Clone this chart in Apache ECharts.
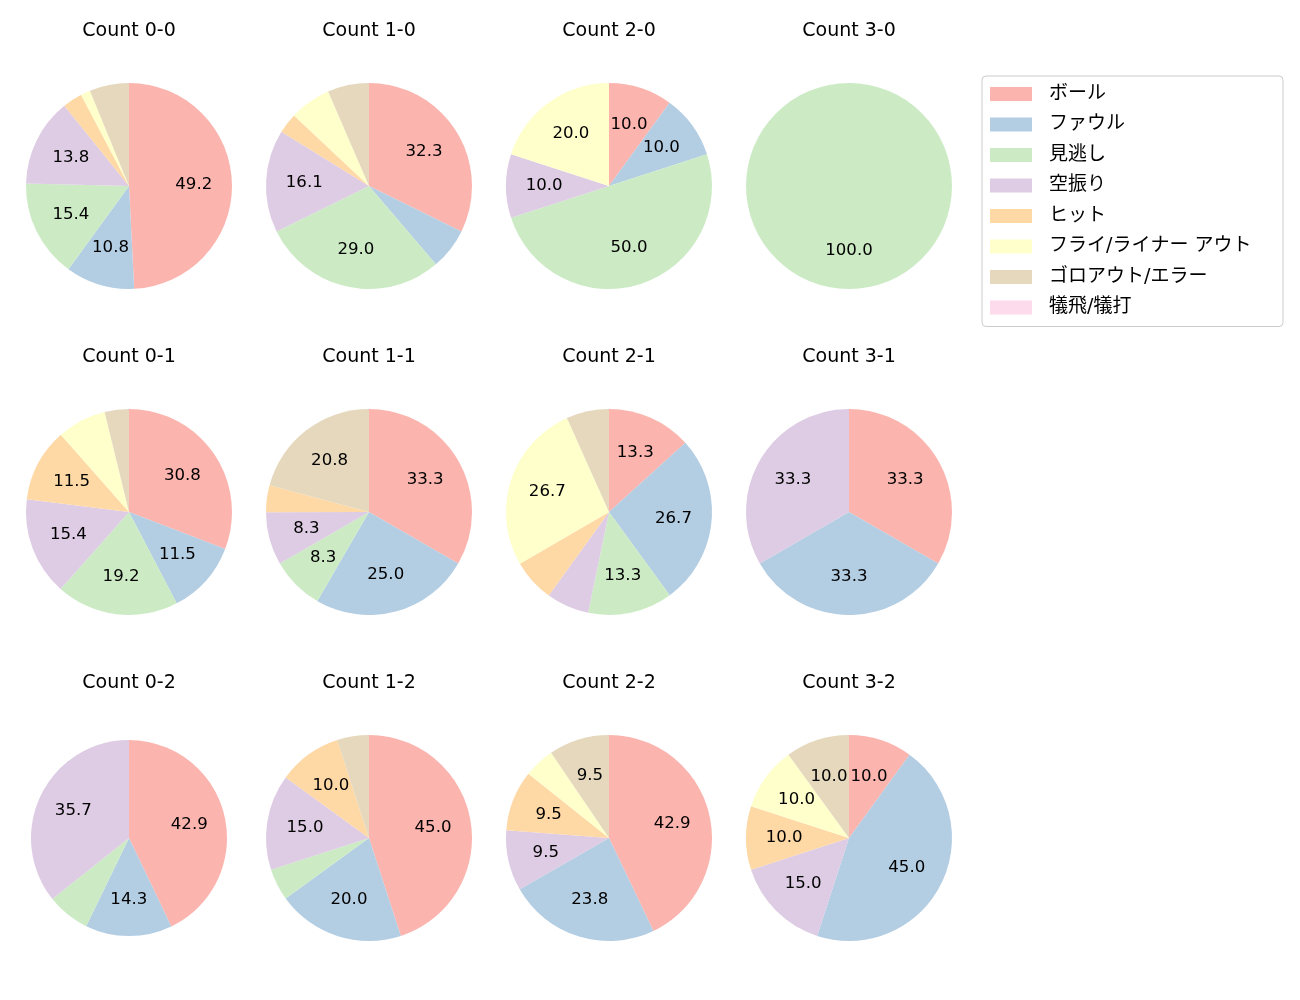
<!DOCTYPE html>
<html>
<head>
<meta charset="utf-8">
<script src="https://cdn.jsdelivr.net/npm/echarts@6/dist/echarts.min.js"></script>
<style>
html,body{margin:0;padding:0;background:#fff;}
#main{width:1300px;height:1000px;}
</style>
</head>
<body>
<div id="main"></div>
<script>
// ---- data ----
const categories = ['ボール','ファウル','見逃し','空振り','ヒット','フライ/ライナー アウト','ゴロアウト/エラー','犠飛/犠打'];
const countTitles = ['Count 0-0','Count 1-0','Count 2-0','Count 3-0',
                     'Count 0-1','Count 1-1','Count 2-1','Count 3-1',
                     'Count 0-2','Count 1-2','Count 2-2','Count 3-2'];
const c00 = [49.2, 10.8, 15.4, 13.8, 3.1, 1.5, 6.2, 0];
const c10 = [32.3, 6.5, 29.0, 16.1, 3.2, 6.5, 6.5, 0];
const c20 = [10.0, 10.0, 50.0, 10.0, 0, 20.0, 0, 0];
const c30 = [0, 0, 100.0, 0, 0, 0, 0, 0];
const c01 = [30.8, 11.5, 19.2, 15.4, 11.5, 7.7, 3.8, 0];
const c11 = [33.3, 25.0, 8.3, 8.3, 4.2, 0, 20.8, 0];
const c21 = [13.3, 26.7, 13.3, 6.7, 6.7, 26.7, 6.7, 0];
const c31 = [33.3, 33.3, 0, 33.3, 0, 0, 0, 0];
const c02 = [42.9, 14.3, 7.1, 35.7, 0, 0, 0, 0];
const c12 = [45.0, 20.0, 5.0, 15.0, 10.0, 0, 5.0, 0];
const c22 = [42.9, 23.8, 0, 9.5, 9.5, 4.8, 9.5, 0];
const c32 = [10.0, 45.0, 0, 15.0, 10.0, 10.0, 10.0, 0];
const allCounts = [c00, c10, c20, c30, c01, c11, c21, c31, c02, c12, c22, c32];

// ---- layout / style ----
const palette = ['#fbb4ae','#b3cde3','#ccebc5','#decbe4','#fed9a6','#ffffcc','#e5d8bd','#fddaec'];
const colX = [129, 369, 609, 849];
const rowY = [186, 512, 838];
const radii = [103, 103, 103, 103, 103, 103, 103, 103, 98, 103, 103, 103];
const FONT = '"DejaVu Sans", "Noto Sans CJK JP", sans-serif';
const LABEL_MIN = 8;

const chart = echarts.init(document.getElementById('main'), null, {renderer: 'canvas'});

const titles = [];
const series = [];
const labelSeries = [];
allCounts.forEach((vals, i) => {
  const cx = colX[i % 4], cy = rowY[Math.floor(i / 4)];
  const R = radii[i];
  titles.push({
    text: countTitles[i], left: cx, top: cy - 164, textAlign: 'center', padding: 0,
    textStyle: {fontFamily: FONT, fontSize: 19, fontWeight: 'normal', color: '#000'}
  });
  const data = categories.map((c, k) => ({name: c, value: vals[k]}));
  series.push({
    type: 'pie', center: [cx, cy], radius: [0, R], startAngle: 90, clockwise: true,
    animation: false, silent: true, avoidLabelOverlap: false,
    label: {show: false}, labelLine: {show: false},
    itemStyle: {borderWidth: 0},
    data: data
  });
  labelSeries.push({
    type: 'pie', center: [cx, cy], radius: [R * 0.2, R], startAngle: 90, clockwise: true,
    animation: false, silent: true, avoidLabelOverlap: false,
    itemStyle: {color: 'rgba(0,0,0,0)', borderWidth: 0},
    labelLine: {show: false},
    label: {
      show: true, position: 'inside', fontFamily: FONT, fontSize: 16.6, color: '#000',
      formatter: p => (p.value >= LABEL_MIN ? p.value.toFixed(1) : '')
    },
    emphasis: {disabled: true},
    data: data
  });
});

chart.setOption({
  color: palette,
  backgroundColor: '#fff',
  title: titles,
  legend: {
    orient: 'vertical', left: 982, top: 76,
    borderColor: '#cccccc', borderWidth: 1, borderRadius: 4,
    padding: [8, 8, 9, 8],
    itemWidth: 42, itemHeight: 14, itemGap: 10.5, icon: 'rect',
    selectedMode: false,
    textStyle: {fontFamily: FONT, fontSize: 19, lineHeight: 20, color: '#000', padding: [0, 0, 0, 12], width: 226},
    data: categories.map((c, k) => ({name: c, itemStyle: {color: palette[k]}}))
  },
  series: series.concat(labelSeries)
});
</script>
</body>
</html>
